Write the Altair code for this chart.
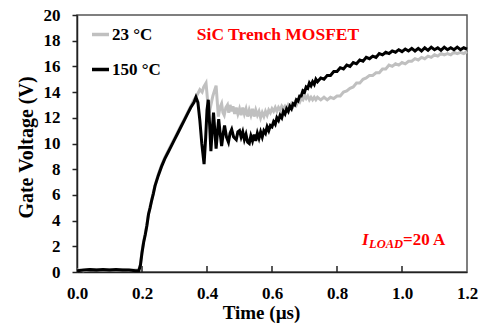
import altair as alt
import pandas as pd

FONT = "Liberation Serif"

# ---------------- data ----------------
early_t = [0.00, 0.02, 0.04, 0.06, 0.08, 0.10, 0.12, 0.14, 0.16, 0.18, 0.19, 0.195,
           0.20, 0.205, 0.21, 0.215, 0.22, 0.225, 0.23, 0.235, 0.24, 0.25, 0.26,
           0.27, 0.28, 0.29, 0.30, 0.31, 0.32, 0.33]

black_early_v = [0.1, 0.15, 0.2, 0.15, 0.2, 0.15, 0.2, 0.15, 0.15, 0.1, 0.1, 0.5,
                 1.5, 2.3, 2.9, 3.6, 4.5, 5.0, 5.6, 6.1, 6.7, 7.5, 8.2,
                 8.8, 9.3, 9.8, 10.3, 10.8, 11.3, 11.8]
gray_early_v = [0.15, 0.1, 0.2, 0.2, 0.15, 0.2, 0.15, 0.2, 0.15, 0.15, 0.15, 0.6,
                1.6, 2.4, 3.0, 3.7, 4.5, 5.1, 5.6, 6.2, 6.7, 7.6, 8.3,
                8.9, 9.4, 9.9, 10.4, 10.9, 11.4, 11.9]

black_osc_t = [0.34, 0.35, 0.36, 0.366, 0.372, 0.378, 0.384, 0.391, 0.396, 0.400,
               0.404, 0.408, 0.412, 0.416, 0.420, 0.424, 0.428, 0.432, 0.436, 0.440,
               0.445, 0.450, 0.454, 0.460, 0.466, 0.471, 0.476, 0.482, 0.490, 0.495]
black_osc_v = [12.3, 12.8, 13.2, 13.6, 13.2, 11.8, 10.0, 8.4, 10.5, 12.6,
               13.4, 11.5, 9.4, 11.0, 12.4, 11.0, 9.6, 10.8, 11.9, 10.9,
               9.8, 10.8, 11.4, 10.5, 10.1, 10.8, 11.1, 10.5, 10.3, 10.9]

gray_osc_t = [0.34, 0.35, 0.36, 0.37, 0.378, 0.385, 0.39, 0.397, 0.402, 0.407,
              0.412, 0.418, 0.423, 0.428, 0.432, 0.435, 0.44, 0.445, 0.449, 0.453,
              0.458, 0.463, 0.467, 0.471, 0.476, 0.48, 0.485, 0.49, 0.495]
gray_osc_v = [12.4, 12.9, 13.4, 13.8, 14.2, 14.0, 14.4, 14.7, 13.3, 12.4,
              13.0, 13.7, 14.1, 14.5, 13.1, 12.1, 12.8, 13.1, 12.4, 12.2,
              12.8, 13.0, 12.4, 13.0, 12.5, 12.9, 12.3, 12.8, 12.3]

late_t = [0.500, 0.505, 0.510, 0.515, 0.520, 0.525, 0.530, 0.535, 0.540, 0.545,
          0.550, 0.555, 0.560, 0.565, 0.570, 0.575, 0.580, 0.585, 0.590, 0.595,
          0.600, 0.605, 0.610, 0.615, 0.620, 0.625, 0.630, 0.635, 0.640, 0.645,
          0.650, 0.655, 0.660, 0.665, 0.670, 0.675, 0.680, 0.685, 0.690, 0.695,
          0.700, 0.705, 0.710, 0.715, 0.720, 0.725, 0.730, 0.735, 0.740,
          0.75, 0.76, 0.77, 0.78, 0.79, 0.80, 0.81, 0.82, 0.83, 0.84,
          0.85, 0.86, 0.87, 0.88, 0.89, 0.90, 0.91, 0.92, 0.93, 0.94,
          0.95, 0.96, 0.97, 0.98, 0.99, 1.00, 1.01, 1.02, 1.03, 1.04,
          1.05, 1.06, 1.07, 1.08, 1.09, 1.10, 1.11, 1.12, 1.13, 1.14,
          1.15, 1.16, 1.17, 1.18, 1.19, 1.20]

black_late_v = [11.0, 10.5, 10.9, 10.3, 10.7, 10.1, 10.0, 10.6, 10.2, 10.7,
                10.2, 10.8, 10.4, 10.9, 10.5, 11.0, 10.8, 11.3, 11.0, 11.4,
                11.3, 11.7, 11.5, 12.0, 11.8, 12.2, 12.0, 12.5, 12.3, 12.7,
                12.5, 12.9, 12.7, 13.1, 13.0, 13.4, 13.3, 13.7, 13.7, 14.1,
                14.0, 14.4, 14.3, 14.7, 14.5, 14.8, 14.6, 15.0, 14.8,
                15.1, 15.0, 15.3, 15.3, 15.6, 15.6, 15.9, 15.8, 16.1, 16.0,
                16.3, 16.2, 16.5, 16.4, 16.7, 16.6, 16.8, 16.7, 17.0, 16.9,
                17.1, 17.0, 17.2, 17.1, 17.3, 17.15, 17.35, 17.2, 17.4, 17.2,
                17.4, 17.2, 17.45, 17.25, 17.5, 17.3, 17.45, 17.25, 17.5, 17.3,
                17.45, 17.3, 17.5, 17.3, 17.45, 17.35]

gray_late_v = [12.7, 12.2, 12.8, 12.3, 12.7, 12.1, 12.6, 12.2, 12.7, 12.1,
               12.6, 12.2, 12.5, 12.0, 12.4, 12.1, 12.5, 12.2, 12.6, 12.4,
               12.7, 12.5, 12.8, 12.5, 12.8, 12.6, 12.9, 12.7, 12.9, 12.7,
               13.0, 12.8, 13.1, 12.9, 13.2, 13.0, 13.3, 13.2, 13.5, 13.4,
               13.7, 13.5, 13.7, 13.4, 13.6, 13.4, 13.6, 13.4, 13.6,
               13.4, 13.6, 13.4, 13.6, 13.5, 13.7, 13.7, 14.0, 14.1, 14.3,
               14.4, 14.7, 14.7, 15.0, 15.1, 15.3, 15.3, 15.5, 15.5, 15.8,
               15.8, 16.1, 16.0, 16.2, 16.1, 16.3, 16.2, 16.4, 16.4, 16.6,
               16.5, 16.7, 16.6, 16.8, 16.7, 16.9, 16.8, 17.0, 16.9, 17.0,
               16.9, 17.1, 17.0, 17.1, 17.0, 17.15]

series_names = ["23 °C", "150 °C"]
series_colors = ["#c0c0c0", "#000000"]

x_tick_values = [0.0, 0.2, 0.4, 0.6, 0.8, 1.0, 1.2]
inner_tick_values = [0.2, 0.4, 0.6, 0.8, 1.0]
y_tick_values = [0, 2, 4, 6, 8, 10, 12, 14, 16, 18, 20]

title_text = ["SiC Trench MOSFET"]
load_i = ["I"]
load_sub = ["LOAD"]
load_rest = ["=20 A"]

# ---------------- tables ----------------
gray_df = pd.DataFrame({
    "t": early_t + gray_osc_t + late_t,
    "v": gray_early_v + gray_osc_v + gray_late_v,
})
gray_df["series"] = series_names[0]
black_df = pd.DataFrame({
    "t": early_t + black_osc_t + late_t,
    "v": black_early_v + black_osc_v + black_late_v,
})
black_df["series"] = series_names[1]

W, H = 390, 257

x_enc = alt.X(
    "t:Q",
    scale=alt.Scale(domain=[0, 1.2], nice=False, zero=False),
    axis=alt.Axis(
        values=x_tick_values, format=".1f", title="Time (µs)",
        ticks=False, tickSize=0, labelPadding=13, labelFlush=False,
        titleX=184, titleY=46, titleBaseline="alphabetic", titleAlign="center",
        titleFontSize=19, grid=False,
    ),
)
y_enc = alt.Y(
    "v:Q",
    scale=alt.Scale(domain=[0, 20], nice=False),
    axis=alt.Axis(
        values=y_tick_values, format="d", title="Gate Voltage (V)",
        tickSize=5, labelPadding=12,
        titleX=-45, titleY=132, titleAngle=-90, titleBaseline="alphabetic",
        titleAlign="center", grid=False,
    ),
)
color_enc = alt.Color(
    "series:N",
    scale=alt.Scale(domain=series_names, range=series_colors),
    title=None,
    legend=alt.Legend(
        orient="none", legendX=13, legendY=9, symbolType="stroke",
        symbolStrokeWidth=3.5, symbolSize=289, labelFont=FONT, labelFontSize=17,
        labelFontWeight="bold", labelColor="black", rowPadding=16,
        labelOffset=1, padding=0,
    ),
)

gray_line = alt.Chart(gray_df).mark_line(strokeWidth=3).encode(
    x=x_enc, y=y_enc, color=color_enc
)
black_line = alt.Chart(black_df).mark_line(strokeWidth=3).encode(
    x=x_enc, y=y_enc, color=color_enc
)

inner_ticks = alt.Chart(pd.DataFrame({"t": inner_tick_values})).mark_rule(
    color="#222", strokeWidth=1.5
).encode(x=x_enc, y=alt.value(H), y2=alt.value(H - 6))

red = "#ff0000"
title_mark = alt.Chart(pd.DataFrame({"s": title_text})).mark_text(
    font=FONT, fontSize=17.5, fontWeight="bold", color=red,
    align="center", baseline="alphabetic",
).encode(text="s:N", x=alt.value(201), y=alt.value(25))

i_mark = alt.Chart(pd.DataFrame({"s": load_i})).mark_text(
    font=FONT, fontSize=17, fontWeight="bold", fontStyle="italic", color=red,
    align="left", baseline="alphabetic",
).encode(text="s:N", x=alt.value(285), y=alt.value(230))
sub_mark = alt.Chart(pd.DataFrame({"s": load_sub})).mark_text(
    font=FONT, fontSize=12.5, fontWeight="bold", fontStyle="italic", color=red,
    align="left", baseline="alphabetic",
).encode(text="s:N", x=alt.value(292), y=alt.value(233))
rest_mark = alt.Chart(pd.DataFrame({"s": load_rest})).mark_text(
    font=FONT, fontSize=17, fontWeight="bold", color=red,
    align="left", baseline="alphabetic",
).encode(text="s:N", x=alt.value(326), y=alt.value(230))

chart = (
    alt.layer(gray_line, black_line, inner_ticks, title_mark, i_mark, sub_mark, rest_mark)
    .properties(
        width=W, height=H,
        autosize=alt.AutoSizeParams(type="none"),
        padding={"left": 77, "top": 15, "right": 14, "bottom": 54},
        background="white",
    )
    .configure_view(stroke="#555555", strokeWidth=1.5)
    .configure_axis(
        labelFont=FONT, labelFontSize=17, labelFontWeight="bold", labelColor="black",
        titleFont=FONT, titleFontSize=20, titleFontWeight="bold", titleColor="black",
        domainColor="#222", domainWidth=1.5, tickColor="#222", tickWidth=1.5,
    )
)

chart.save("out.html", embed_options={"renderer": "svg", "actions": False})
